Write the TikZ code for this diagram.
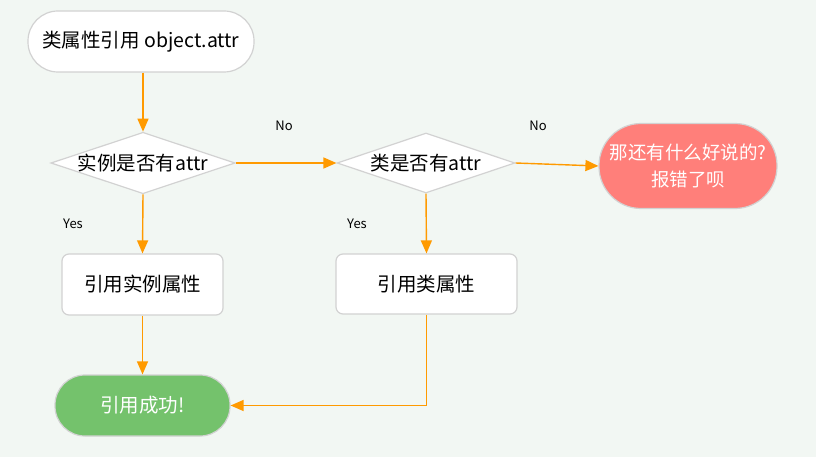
\documentclass[tikz,border=0pt]{standalone}
\usepackage{fontspec}
\setmainfont{Noto Sans CJK SC}
\usepackage[rgb]{xcolor}
\usepackage{tikz}
\usetikzlibrary{shapes.geometric,arrows.meta}

\definecolor{bgcol}{HTML}{F2F7F3}
\definecolor{edgecol}{HTML}{D2D2D2}
\definecolor{arrcol}{HTML}{FF9A00}
\definecolor{errcol}{HTML}{FF7F7A}
\definecolor{okcol}{HTML}{74C26C}

\tikzset{
  every node/.style={font=\fontsize{19.5}{27}\selectfont},
  pill/.style={draw=edgecol, line width=1.2pt, fill=white, rounded corners=30pt,
    minimum height=61pt, inner sep=0pt},
  decide/.style={diamond, draw=edgecol, line width=1.2pt, fill=white, aspect=3,
    inner sep=0pt, minimum width=178pt, minimum height=60pt},
  todo/.style={draw=edgecol, line width=1.2pt, fill=white, rounded corners=7pt,
    minimum height=61pt, inner sep=0pt},
  flow/.style={arrcol, line width=1.4pt, -{Triangle[length=13pt,width=11pt]}},
  tag/.style={font=\fontsize{13}{15}\selectfont}
}

\begin{document}
\begin{tikzpicture}[x=1pt, y=-1pt]

\fill[bgcol] (0,0) rectangle (816,457);
\useasboundingbox (0,0) rectangle (816,457);

%% nodes of the flow
\path
(141,41.5) node[pill, minimum width=226pt] (start){类属性引用 object.attr}
(143,163) node[decide] (hasinst){实例是否有attr}
(426,163) node[decide] (hascls){类是否有attr}
(688,166) node[pill, fill=errcol, text=white, minimum width=178pt,
  minimum height=85pt, rounded corners=42pt, align=center,
  font=\fontsize{18.5}{27}\selectfont] (fail){那还有什么好说的?\\报错了呗}
(142.5,284.5) node[todo, minimum width=161pt] (useinst){引用实例属性}
(426.5,284) node[todo, minimum width=181pt, minimum height=60pt] (usecls){引用类属性}
(142.5,405.5) node[pill, fill=okcol, text=white, minimum width=175pt] (done){引用成功!};

\coordinate (turn) at (usecls.south |- done.east);

%% connectors
\draw[flow] (start.south -| hasinst.north) -- (hasinst.north);
\draw[flow] (hasinst.east) -- (hascls.west);
\draw[flow] (hascls.east) -- (fail.west);
\draw[flow] (hasinst.south) -- (useinst.north);
\draw[flow] (hascls.south) -- (usecls.north);
\draw[flow] (useinst.south) -- (done.north);
\draw[flow] (usecls.south) -- (turn) -- (done.east);

%% yes / no
\path
(284,126) node[tag] (no1){No}
(538,126) node[tag] (no2){No}
(73,224) node[tag] (yes1){Yes}
(357,224) node[tag] (yes2){Yes};

\end{tikzpicture}
\end{document}
